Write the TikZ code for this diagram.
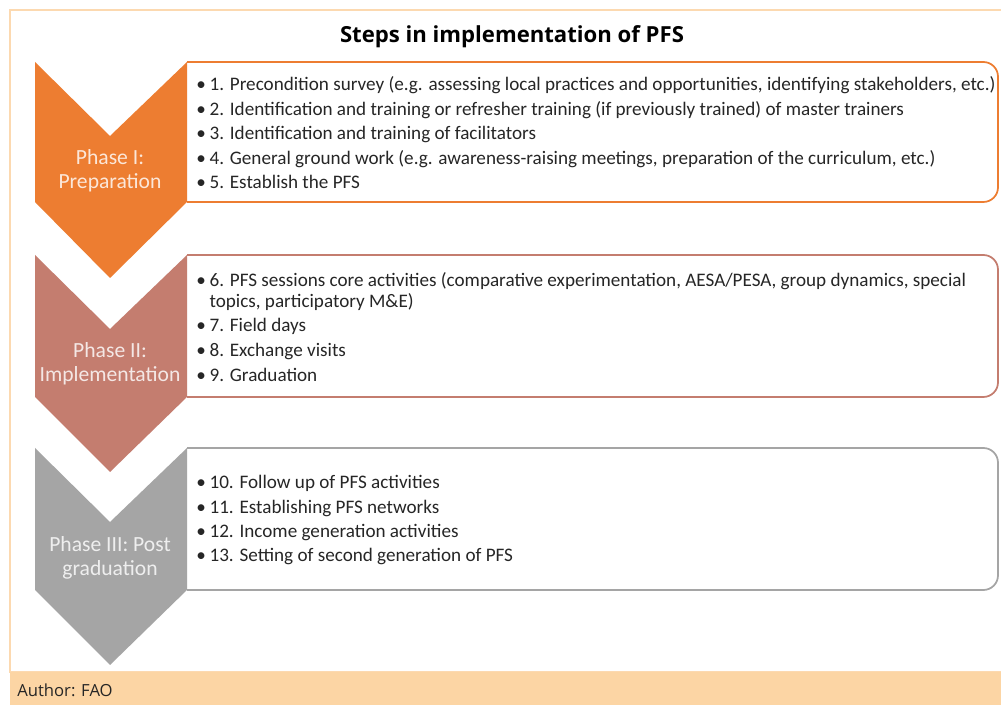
\documentclass[tikz,border=0pt]{standalone}
\usepackage{fontspec}
\setmainfont{Carlito}
\newfontfamily\authorfont{Open Sans}
\definecolor{orA}{HTML}{ED7D31}
\definecolor{brB}{HTML}{C47D6F}
\definecolor{grC}{HTML}{A5A5A5}
\definecolor{frameC}{HTML}{FCD9B0}
\definecolor{barC}{HTML}{FCD5A4}
\definecolor{txtC}{HTML}{262626}
\tikzset{
  stepitem/.style={anchor=base west, inner sep=0pt, text=txtC, font=\fontsize{14.35pt}{17pt}\selectfont},
  phaselbl/.style={align=center, text=white, text opacity=0.82, inner sep=0pt, font=\fontsize{16.2pt}{18pt}\selectfont},
  itembox/.style={rounded corners=11pt, line width=1.3pt},
}
\newcommand{\bul}{\makebox[10pt][l]{\textbullet}}
\begin{document}
\begin{tikzpicture}[x=0.75pt,y=-0.75pt]
\useasboundingbox (0,0) rectangle (1001,705);
\fill[white] (0,0) rectangle (1001,705);
% outer frame
\draw[frameC, line width=1pt] (10,10) rectangle (1010,672);
\fill[barC] (10,672) rectangle (1001,705);
\node[anchor=base west, inner sep=0pt, font=\authorfont\fontsize{12.5pt}{15pt}\selectfont, text=txtC] (author) at (17,697) {Author: FAO};
% title
\node[font=\authorfont\bfseries\fontsize{16.6pt}{18pt}\selectfont, inner sep=0pt, anchor=base] (title) at (512,43) {Steps in implementation of PFS};

% boxes (right corners rounded only)
\draw[itembox, draw=orA] (187,62) -- (998,62) -- (998,202) -- (187,202);
\draw[itembox, draw=brB] (187,255) -- (998,255) -- (998,397) -- (187,397);
\draw[itembox, draw=grC] (187,448) -- (998,448) -- (998,590) -- (187,590);

% chevrons
\fill[orA] (35,62) -- (110,136) -- (187,62) -- (187,202) -- (110,278) -- (35,202) -- cycle;
\fill[brB] (35,255) -- (110,329) -- (187,255) -- (187,397) -- (110,472) -- (35,397) -- cycle;
\fill[grC] (35,448) -- (110,522) -- (187,448) -- (187,590) -- (110,665) -- (35,590) -- cycle;

\node[phaselbl] (p1) at (110,171) {Phase I:\\Preparation};
\node[phaselbl] (p2) at (110,364) {Phase II:\\Implementation};
\node[phaselbl] (p3) at (110,558) {Phase III: Post\\graduation};

% items
\node[stepitem] (i1) at (196,91) {\bul 1. Precondition survey (e.g. assessing local practices and opportunities, identifying stakeholders, etc.)};
\node[stepitem] (i2) at (196,115.5) {\bul 2. Identification and training or refresher training (if previously trained) of master trainers};
\node[stepitem] (i3) at (196,140) {\bul 3. Identification and training of facilitators};
\node[stepitem] (i4) at (196,164.5) {\bul 4. General ground work (e.g. awareness-raising meetings, preparation of the curriculum, etc.)};
\node[stepitem] (i5) at (196,189) {\bul 5. Establish the PFS};

\node[stepitem] (i6) at (196,287) {\bul 6. PFS sessions core activities (comparative experimentation, AESA/PESA, group dynamics, special};
\node[stepitem] (i6b) at (209.3,308) {topics, participatory M\&E)};
\node[stepitem] (i7) at (196,332) {\bul 7. Field days};
\node[stepitem] (i8) at (196,357) {\bul 8. Exchange visits};
\node[stepitem] (i9) at (196,382) {\bul 9. Graduation};

\node[stepitem] (i10) at (196,489) {\bul 10. Follow up of PFS activities};
\node[stepitem] (i11) at (196,514) {\bul 11. Establishing PFS networks};
\node[stepitem] (i12) at (196,538) {\bul 12. Income generation activities};
\node[stepitem] (i13) at (196,562) {\bul 13. Setting of second generation of PFS};
\end{tikzpicture}
\end{document}
